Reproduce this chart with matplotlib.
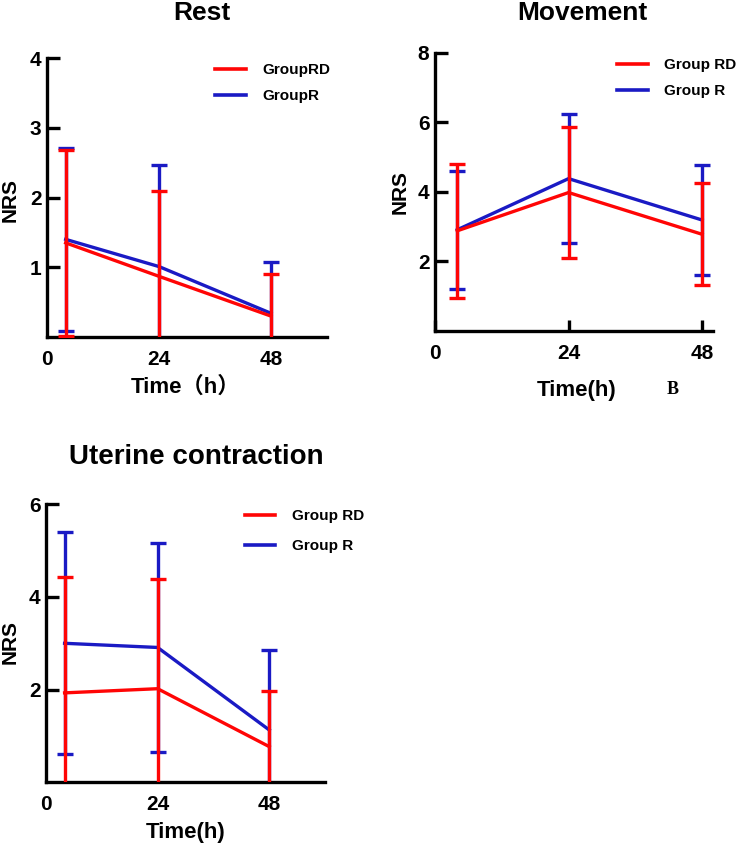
import matplotlib.pyplot as plt
from matplotlib.lines import Line2D

# time points (h)
time = [4, 24, 48]

# rest
rest_rd_mean = [1.35, 0.87, 0.30]
rest_rd_sd = [1.33, 1.22, 0.61]
rest_r_mean = [1.40, 1.01, 0.34]
rest_r_sd = [1.31, 1.46, 0.73]

# movement
mov_rd_mean = [2.88, 3.98, 2.78]
mov_rd_sd = [1.92, 1.87, 1.46]
mov_r_mean = [2.91, 4.38, 3.19]
mov_r_sd = [1.69, 1.86, 1.59]

# uterine contraction
ut_rd_mean = [1.93, 2.02, 0.77]
ut_rd_sd = [2.51, 2.36, 1.19]
ut_r_mean = [3.00, 2.91, 1.13]
ut_r_sd = [2.40, 2.25, 1.73]

RED = '#ff0505'
BLUE = '#1a1ac4'
FONT = 'Liberation Sans'

plt.rcParams['font.family'] = [FONT, 'Noto Sans CJK SC', 'DejaVu Sans']
plt.rcParams['font.weight'] = 'bold'

fig = plt.figure(figsize=(7.37, 8.47), dpi=100)


def panel(rect, rd_m, rd_s, r_m, r_s, xmax, ymax, yticks, labels, xlab,
          xlab_pos, ylab_pos, leg_pos, leg_space, xtick_len):
    ax = fig.add_axes(rect)
    lw = 2.4
    ax.errorbar(time, r_m, yerr=r_s, color=BLUE, lw=lw, elinewidth=lw,
                capsize=6, capthick=lw, zorder=2)
    ax.errorbar(time, rd_m, yerr=rd_s, color=RED, lw=lw, elinewidth=lw,
                capsize=6, capthick=lw, zorder=3)
    ax.set_xlim(0, xmax)
    ax.set_ylim(0, ymax)
    ax.set_xticks([0, 24, 48])
    ax.set_yticks(yticks)
    for s in ['top', 'right']:
        ax.spines[s].set_visible(False)
    for s in ['left', 'bottom']:
        ax.spines[s].set_linewidth(2.4)
    ax.tick_params(axis='y', direction='in', length=9, width=2.4, pad=4,
                   labelsize=15)
    ax.tick_params(axis='x', direction='in', length=xtick_len, width=2.4,
                   pad=9, labelsize=15)
    for t in ax.get_xticklabels() + ax.get_yticklabels():
        t.set_fontweight('bold')
    ax.set_xlabel(xlab, fontsize=16, fontweight='bold', va='center')
    ax.xaxis.set_label_coords(*xlab_pos)
    ax.set_ylabel('NRS', fontsize=15, fontweight='bold', va='center')
    ax.yaxis.set_label_coords(*ylab_pos)
    handles = [Line2D([], [], color=RED, lw=2.6), Line2D([], [], color=BLUE, lw=2.6)]
    ax.legend(handles, labels, loc='upper left', bbox_to_anchor=leg_pos,
              frameon=False, borderpad=0, borderaxespad=0, handlelength=2.0,
              handletextpad=1.1, labelspacing=leg_space,
              prop={'family': FONT, 'weight': 'bold', 'size': 11})
    return ax


panel([0.0638, 0.6021, 0.3799, 0.3294], rest_rd_mean, rest_rd_sd,
      rest_r_mean, rest_r_sd, 60, 4, [1, 2, 3, 4], ['GroupRD', 'GroupR'],
      'Time\uff08h\uff09', (0.493, -0.179), (-0.132, 0.491), (0.6, 0.982), 0.8, 0)

panel([0.5902, 0.6092, 0.3776, 0.3286], mov_rd_mean, mov_rd_sd,
      mov_r_mean, mov_r_sd, 50, 8, [2, 4, 6, 8], ['Group RD', 'Group R'],
      'Time(h)', (0.510, -0.212), (-0.126, 0.50), (0.654, 0.981), 0.8, 8)

panel([0.0624, 0.0764, 0.3786, 0.3282], ut_rd_mean, ut_rd_sd,
      ut_r_mean, ut_r_sd, 60, 6, [2, 4, 6], ['Group RD', 'Group R'],
      'Time(h)', (0.502, -0.182), (-0.129, 0.506), (0.713, 0.983), 1.07, 0)

fig.text(0.274, 0.985, 'Rest', fontsize=19, fontweight='bold', ha='center', va='center')
fig.text(0.790, 0.985, 'Movement', fontsize=19, fontweight='bold', ha='center', va='center')
fig.text(0.267, 0.4608, 'Uterine contraction', fontsize=20, fontweight='bold',
         ha='center', va='center')
fig.text(0.912, 0.5396, 'B', fontsize=13, fontweight='bold', family='Liberation Serif',
         ha='center', va='center')

fig.savefig('out.png', dpi=100)
